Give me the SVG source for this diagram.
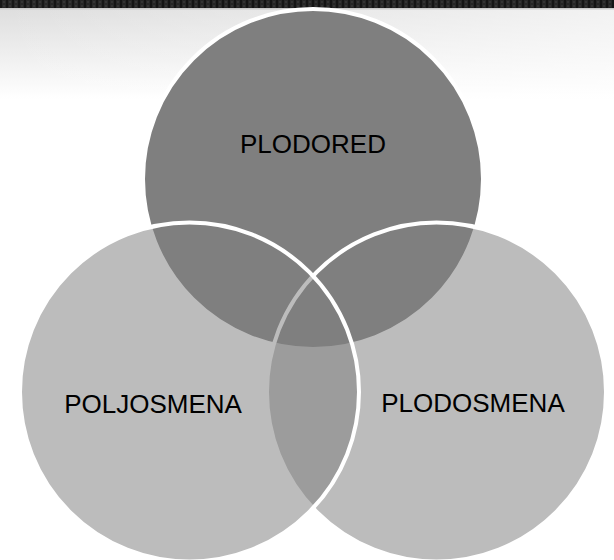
<svg xmlns="http://www.w3.org/2000/svg" width="614" height="560" viewBox="0 0 614 560">
  <defs>
    <linearGradient id="bgV" x1="0" y1="0" x2="0" y2="1">
      <stop offset="0" stop-color="#dedede"/>
      <stop offset="1" stop-color="#ffffff"/>
    </linearGradient>
    <linearGradient id="bgH" x1="0" y1="0" x2="1" y2="0">
      <stop offset="0" stop-color="#ffffff" stop-opacity="0"/>
      <stop offset="1" stop-color="#ffffff" stop-opacity="0.6"/>
    </linearGradient>
    <pattern id="tex" x="0" y="0" width="6" height="4" patternUnits="userSpaceOnUse">
      <rect width="6" height="4" fill="#262626"/>
      <rect x="0" y="0" width="2" height="4" fill="#151515"/>
      <rect x="3" y="1" width="2" height="2" fill="#333333"/>
    </pattern>
  </defs>
  <style>
    .lbl { font-family: "Liberation Sans", Arial, sans-serif; font-size: 26px; fill: #000000; text-anchor: middle; }
    .top { fill: #7f7f7f; stroke: #ffffff; stroke-width: 4; }
    .side { fill: #7f7f7f; fill-opacity: 0.52; stroke: #ffffff; stroke-width: 4; }
  </style>
  <rect width="614" height="560" fill="#ffffff"/>
  <rect x="0" y="9" width="614" height="90" fill="url(#bgV)"/>
  <rect x="0" y="9" width="614" height="90" fill="url(#bgH)"/>
  <rect x="0" y="0" width="614" height="8" fill="url(#tex)"/>
  <rect x="0" y="8" width="614" height="1.5" fill="#c8c8c8"/>
  <g id="connectors"/>
  <g id="plodored">
    <circle class="top" cx="313" cy="179" r="170"/>
  </g>
  <g id="plodosmena">
    <circle class="side" cx="436.5" cy="392" r="169.5"/>
  </g>
  <g id="poljosmena">
    <circle class="side" cx="189.5" cy="392" r="169.5"/>
  </g>
  <g id="labels">
    <text class="lbl" x="313" y="153">PLODORED</text>
    <text class="lbl" x="153" y="413">POLJOSMENA</text>
    <text class="lbl" x="473" y="412">PLODOSMENA</text>
  </g>
</svg>
